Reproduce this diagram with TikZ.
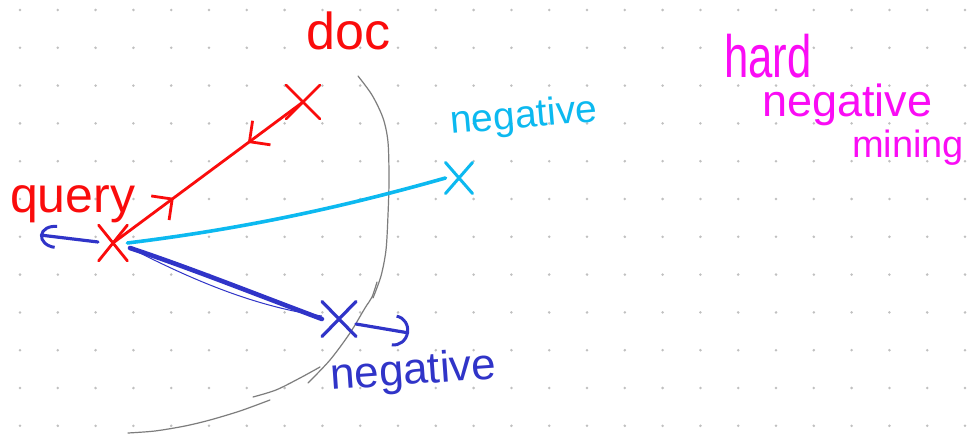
\documentclass[tikz,border=0pt]{standalone}
\usepackage{fontspec}
\setmainfont{Liberation Sans}
\usetikzlibrary{shapes.misc,arrows.meta,decorations.markings}
\definecolor{penred}{RGB}{250,12,12}
\definecolor{pencyan}{RGB}{12,185,240}
\definecolor{penblue}{RGB}{48,52,200}
\definecolor{penmag}{RGB}{250,12,245}
\definecolor{pengray}{RGB}{125,125,125}
\definecolor{dotgray}{RGB}{192,192,192}
\begin{document}
\begin{tikzpicture}[x=1pt,y=-1pt,
  xmark/.style={cross out, draw, line width=2.8pt, inner sep=0pt, line cap=round},
  penlabel/.style={inner sep=0pt, anchor=base west},
  arcstroke/.style={pengray, line width=1.2pt, line cap=round}]
\useasboundingbox (0,0) rectangle (978,441);
\fill[white] (0,0) rectangle (978,441);
% dot grid
\foreach \i in {0,...,25}{
  \foreach \j in {0,...,11}{
    \fill[dotgray] ({20+37.8*\i},{10+37.8*\j}) circle (1.4);
  }
}
% gray arc
\draw[arcstroke] plot[smooth] coordinates {(358,76) (372,95) (383,118) (388,142) (389,180) (388,215) (386,250) (381,276) (373,298)};
\draw[arcstroke] plot[smooth] coordinates {(377,282) (372,297) (365,308) (350,333) (330,360) (308,383)};
\draw[arcstroke] plot[smooth] coordinates {(320,367) (300,378) (276,390) (253,397)};
\draw[arcstroke] plot[smooth] coordinates {(270,400) (240,411) (210,420) (185,426) (155,431) (128,433)};
% points
\node[xmark, penred, minimum width=26pt, minimum height=33pt] (query) at (113,243) {};
\node[xmark, penred, minimum width=31pt, minimum height=31pt] (doc) at (303,102) {};
\node[xmark, pencyan, line width=3pt, minimum width=24pt, minimum height=28pt] (negc) at (459,178) {};
\node[xmark, penblue, line width=3.2pt, minimum width=31pt, minimum height=32pt] (negb) at (339,319) {};
\coordinate (qleft) at (40,235);
\coordinate (qlstart) at (98,242);
\coordinate (bright) at (409,333);
\coordinate (bstart) at (356,324);
\coordinate (qblue) at (130,248);
% red connector with arrows pulling together
\draw[penred, line width=2.8pt, line cap=round, postaction={decorate},
  decoration={markings,
    mark=at position 0.32 with {\arrow{Straight Barb[length=15pt,width=30pt,line width=2.8pt]}},
    mark=at position 0.71 with {\arrowreversed{Straight Barb[length=15pt,width=30pt,line width=2.8pt]}}}]
  (query.center) -- (doc.center);
% cyan negative
\draw[pencyan, line width=3.6pt, line cap=round] (query.east) .. controls (250,228) and (350,205) .. (negc.west);
% blue negative
\draw[penblue, line width=4.6pt, line cap=round] (qblue) .. controls (190,268) and (250,292) .. (negb.west);
\draw[penblue, line width=1pt] (qblue) .. controls (185,276) and (250,306) .. ([yshift=3pt]negb.west);
% push-away arrows
\draw[penblue, line width=3.2pt, line cap=round, -{Arc Barb[length=15pt,width=32pt,line width=3pt]}] (bstart) -- (bright);
\draw[penblue, line width=3.2pt, line cap=round, -{Arc Barb[length=16pt,width=24pt,line width=3pt]}] (qlstart) -- (qleft);
% labels
\node[penlabel, penred, font=\fontsize{52}{52}\selectfont] (doclabel) at (306,50) {doc};
\node[penlabel, penred, font=\fontsize{50}{50}\selectfont] (querylabel) at (10,212) {query};
\node[penlabel, pencyan, font=\fontsize{39}{39}\selectfont, rotate=5] (negclabel) at (451,134) {negative};
\node[penlabel, penblue, font=\fontsize{44}{44}\selectfont, rotate=4] (negblabel) at (331,390) {negative};
\node[penlabel, penmag, font=\fontsize{46}{46}\selectfont] (hard) at (724,78) {\scalebox{0.95}[1.3]{hard}};
\node[penlabel, penmag, font=\fontsize{45}{45}\selectfont] (negm) at (762,117) {negative};
\node[penlabel, penmag, font=\fontsize{38}{38}\selectfont] (mining) at (852,158) {mining};
\end{tikzpicture}
\end{document}
